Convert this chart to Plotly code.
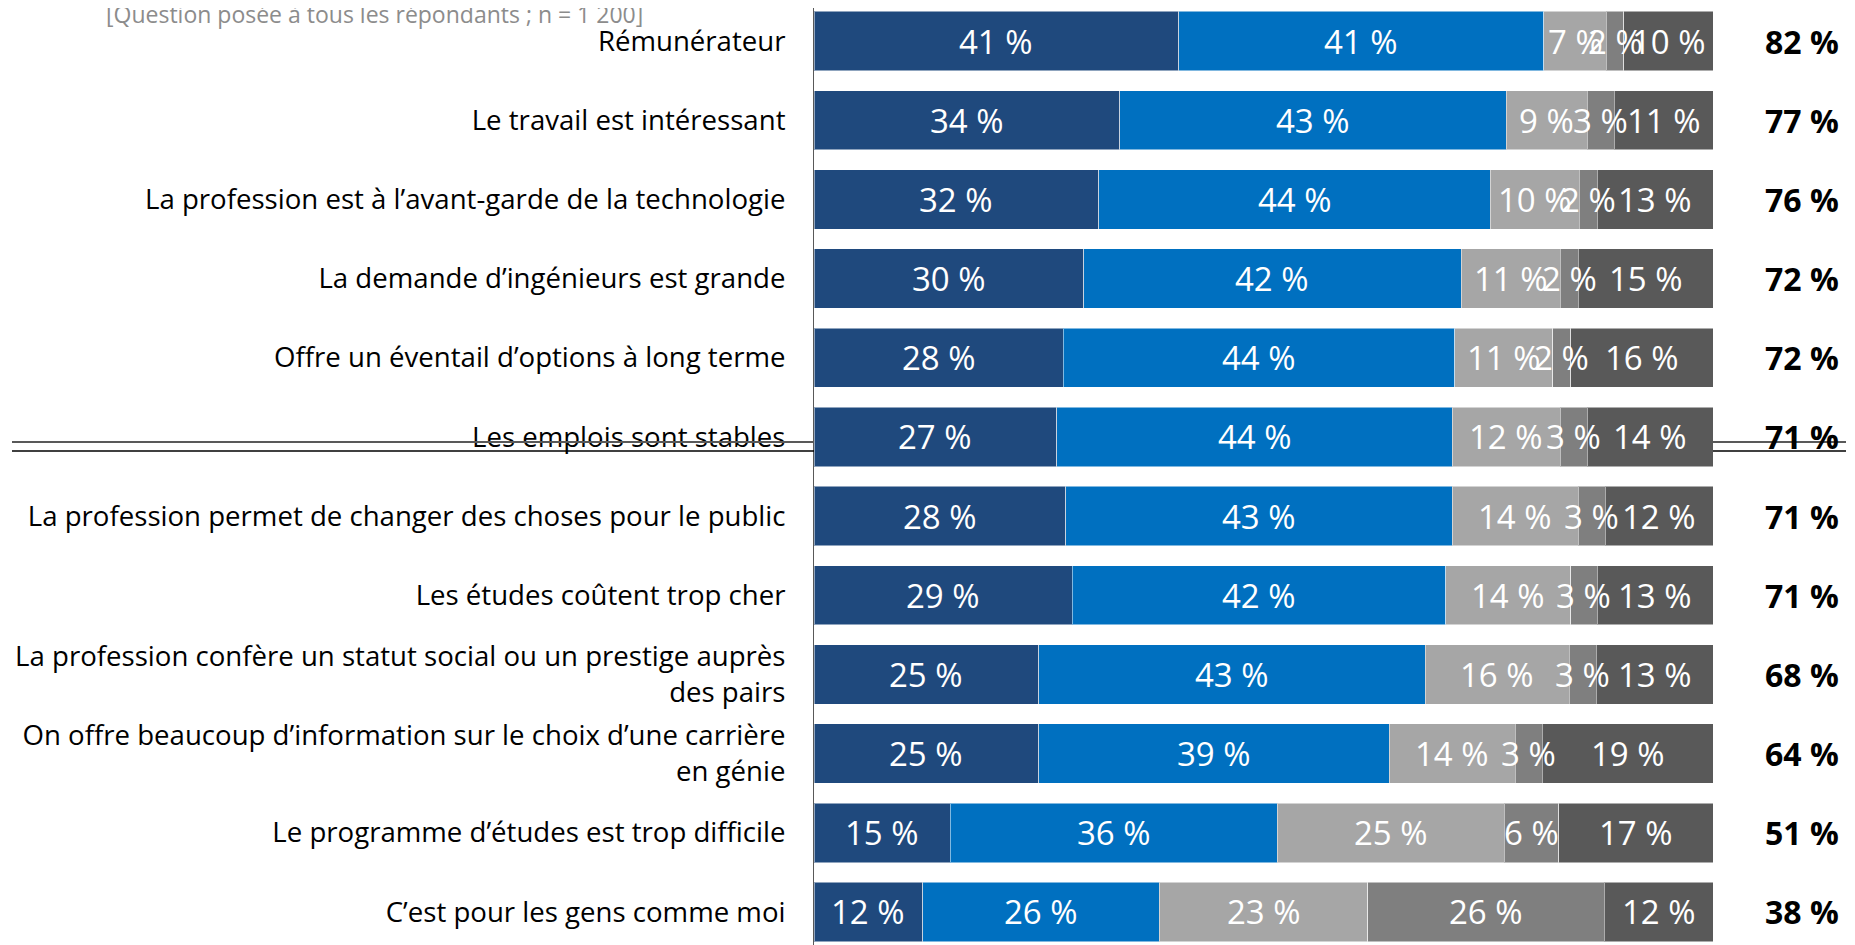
"""
Perception de la profession d'ingénieur — barres empilées 100 %.
"""

import plotly.graph_objects as go

FONT = "Open Sans, sans-serif"

categories = [
    "Rémunérateur",
    "Le travail est intéressant",
    "La profession est à l’avant-garde de la technologie",
    "La demande d’ingénieurs est grande",
    "Offre un éventail d’options à long terme",
    "Les emplois sont stables",
    "La profession permet de changer des choses pour le public",
    "Les études coûtent trop cher",
    "La profession confère un statut social ou un prestige auprès<br>des pairs",
    "On offre beaucoup d’information sur le choix d’une carrière<br>en génie",
    "Le programme d’études est trop difficile",
    "C’est pour les gens comme moi",
]

tout_a_fait = [41, 34, 32, 30, 28, 27, 28, 29, 25, 25, 15, 12]
plutot = [41, 43, 44, 42, 44, 44, 43, 42, 43, 39, 36, 26]
plutot_pas = [7, 9, 10, 11, 11, 12, 14, 14, 16, 14, 25, 23]
pas_du_tout = [2, 3, 2, 2, 2, 3, 3, 3, 3, 3, 6, 26]
ne_sait_pas = [10, 11, 13, 15, 16, 14, 12, 13, 13, 19, 17, 12]

totaux = [82, 77, 76, 72, 72, 71, 71, 71, 68, 64, 51, 38]

series = [
    ("Tout à fait d’accord", tout_a_fait, "#1F497D"),
    ("Plutôt d’accord", plutot, "#0070C0"),
    ("Plutôt en désaccord", plutot_pas, "#A6A6A6"),
    ("Tout à fait en désaccord", pas_du_tout, "#7F7F7F"),
    ("Ne sait pas", ne_sait_pas, "#595959"),
]

# zone de tracé (px dans la figure)
X0, X1 = 806, 1705

fig = go.Figure()
for nom, valeurs, couleur in series:
    fig.add_trace(
        go.Bar(
            name=nom,
            y=categories,
            x=valeurs,
            orientation="h",
            marker=dict(color=couleur, line=dict(color="rgba(255,255,255,0.5)", width=1)),
            hoverinfo="skip",
        )
    )

# étiquettes au centre de chaque segment (au-dessus de toutes les barres)
sommes = [sum(s[1][i] for s in series) for i in range(len(categories))]
for i, cat in enumerate(categories):
    cumul = 0
    for _, valeurs, _ in series:
        v = valeurs[i] / sommes[i] * 100
        fig.add_annotation(
            x=cumul + v / 2, y=cat, text=f"{valeurs[i]} %", showarrow=False,
            font=dict(family=FONT, size=33, color="white"),
            xanchor="center", yanchor="middle",
        )
        cumul += v

# totaux à droite des barres
for cat, tot in zip(categories, totaux):
    fig.add_annotation(
        x=(1794 - X0) / (X1 - X0), xref="paper", y=cat, yref="y",
        text=f"<b>{tot} %</b>", showarrow=False,
        font=dict(family=FONT, size=32, color="black"),
        xanchor="center", yanchor="middle",
    )

fig.add_annotation(
    x=(366 - X0) / (X1 - X0), xref="paper", y=1 - 6 / 945, yref="paper",
    text="[Question posée à tous les répondants ; n = 1 200]",
    showarrow=False, xanchor="center", yanchor="middle",
    font=dict(family=FONT, size=23, color="#8C8C8C"),
)

# double trait horizontal
for y_px, couleur, ep in [(434, "#595959", 2), (443, "black", 1.5)]:
    yp = 1 - y_px / 945
    for x0, x1 in [((4 - X0) / (X1 - X0), 0), (1, (1838 - X0) / (X1 - X0))]:
        fig.add_shape(
            type="line", xref="paper", yref="paper",
            x0=x0, x1=x1, y0=yp, y1=yp,
            line=dict(color=couleur, width=ep),
        )

fig.update_layout(
    barmode="stack",
    barnorm="percent",
    bargap=0.25,
    width=1855,
    height=945,
    margin=dict(l=X0, r=1855 - X1, t=0, b=0, autoexpand=False),
    plot_bgcolor="white",
    paper_bgcolor="white",
    showlegend=False,
    font=dict(family=FONT, size=27.6, color="black"),
    xaxis=dict(range=[0, 100], visible=False, automargin=False),
    yaxis=dict(
        range=[11.518, -0.417],
        automargin=False,
        showline=True,
        linecolor="#595959",
        linewidth=1,
        ticks="",
        ticklabelstandoff=22,
        tickfont=dict(family=FONT, size=27.6, color="black"),
        showgrid=False,
    ),
)

fig.write_html("out.html")
